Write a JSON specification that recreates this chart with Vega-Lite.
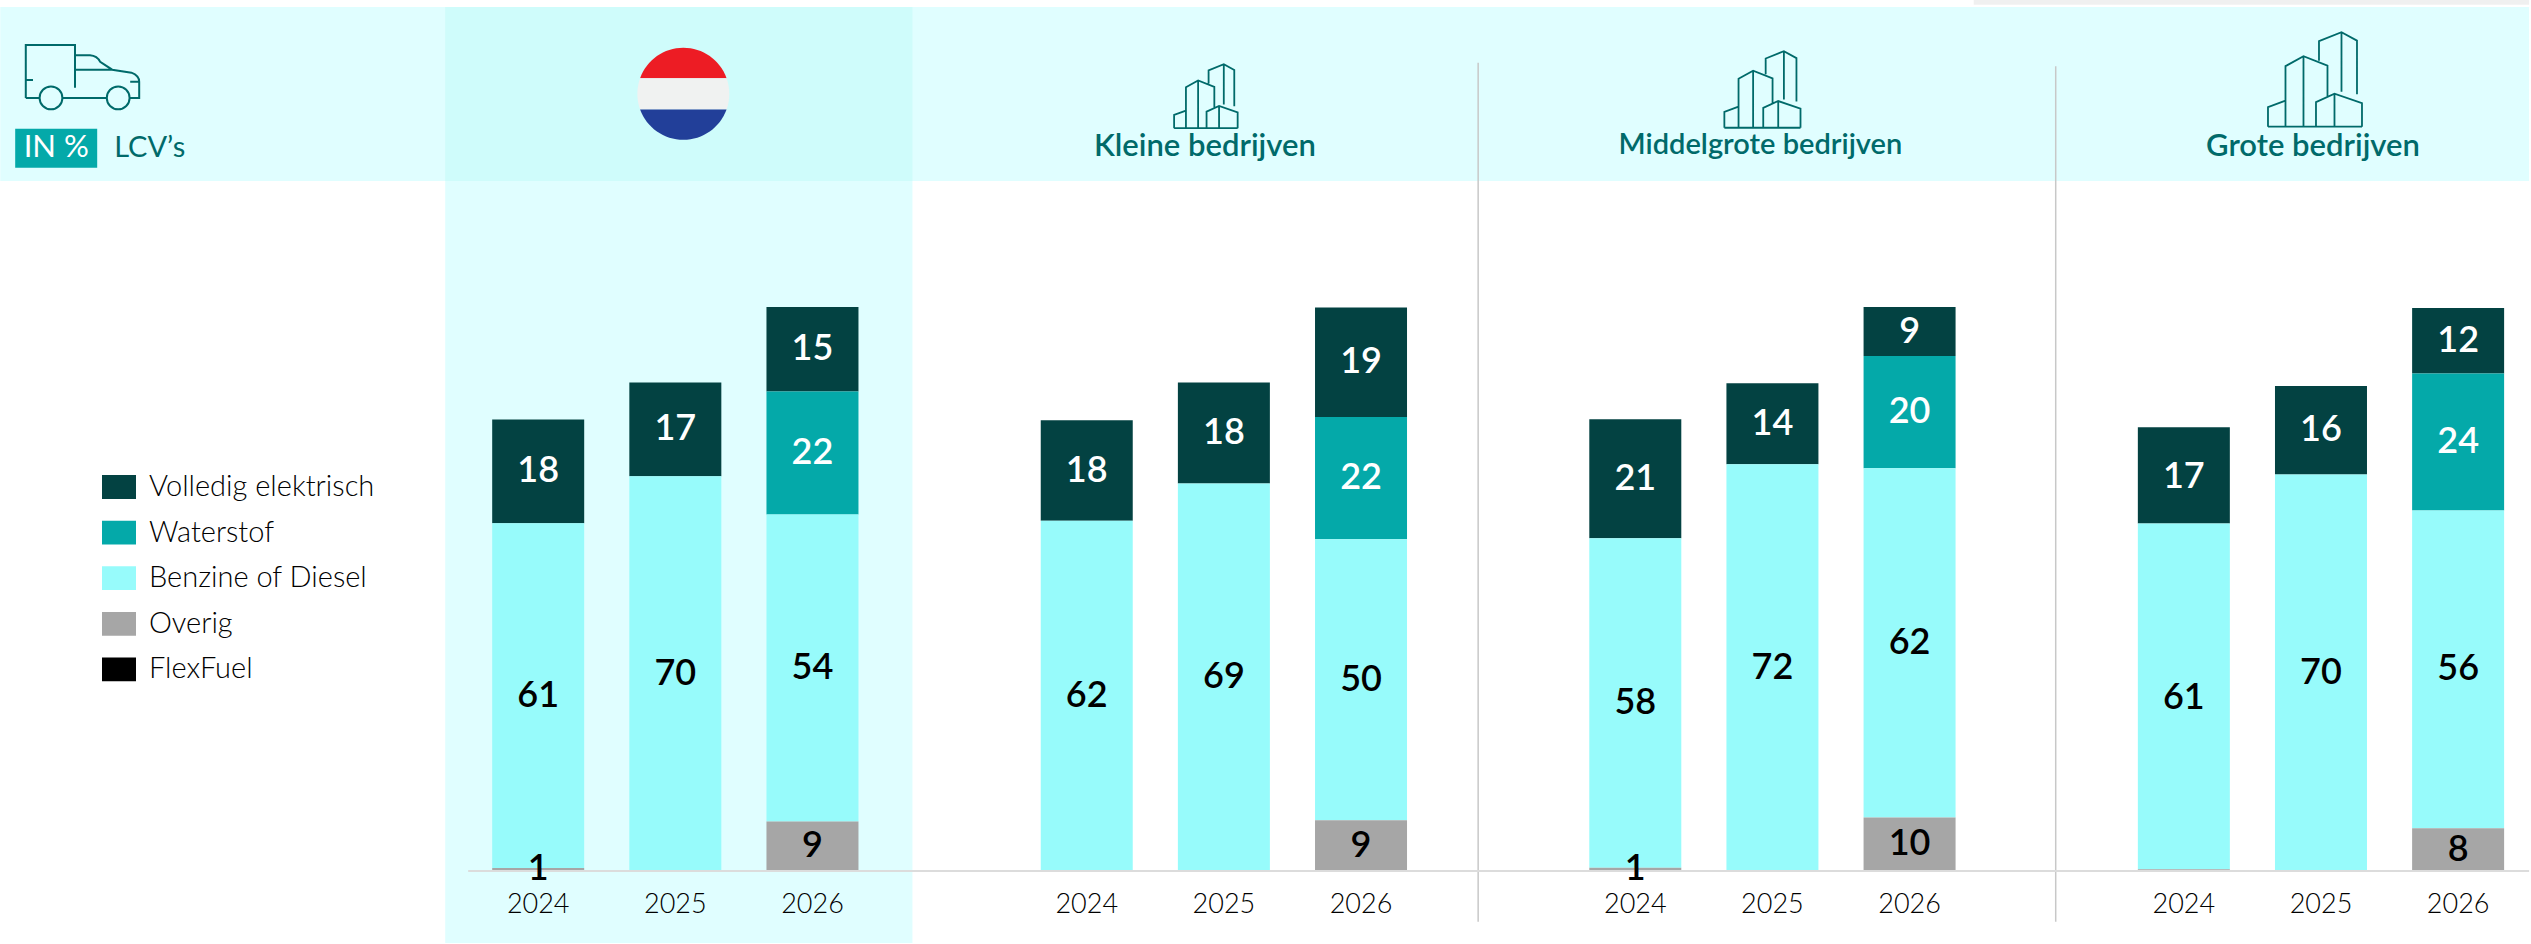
{
"$schema":"https://vega.github.io/schema/vega-lite/v6.json",
"width":2531,"height":944,"padding":0,"autosize":{"type":"fit","contains":"padding"},"background":"#ffffff",
"config":{"view":{"stroke":null},"axisY":{"disable":true},"font":"Lato"},
"data":{"values":[{"kop":1}]},
"datasets":{"rows":[
{"slot":"NL 2024","brandstof":"Volledig elektrisch","rang":4,"pct":18.4},
{"slot":"NL 2024","brandstof":"Benzine of Diesel","rang":2,"pct":61.1},
{"slot":"NL 2024","brandstof":"Overig","rang":1,"pct":0.55},
{"slot":"NL 2025","brandstof":"Volledig elektrisch","rang":4,"pct":16.6},
{"slot":"NL 2025","brandstof":"Benzine of Diesel","rang":2,"pct":70},
{"slot":"NL 2026","brandstof":"Volledig elektrisch","rang":4,"pct":15},
{"slot":"NL 2026","brandstof":"Waterstof","rang":3,"pct":21.8},
{"slot":"NL 2026","brandstof":"Benzine of Diesel","rang":2,"pct":54.4},
{"slot":"NL 2026","brandstof":"Overig","rang":1,"pct":8.8},
{"slot":"K 2024","brandstof":"Volledig elektrisch","rang":4,"pct":17.8},
{"slot":"K 2024","brandstof":"Benzine of Diesel","rang":2,"pct":62.1},
{"slot":"K 2025","brandstof":"Volledig elektrisch","rang":4,"pct":17.9},
{"slot":"K 2025","brandstof":"Benzine of Diesel","rang":2,"pct":68.7},
{"slot":"K 2026","brandstof":"Volledig elektrisch","rang":4,"pct":19.4},
{"slot":"K 2026","brandstof":"Waterstof","rang":3,"pct":21.7},
{"slot":"K 2026","brandstof":"Benzine of Diesel","rang":2,"pct":49.8},
{"slot":"K 2026","brandstof":"Overig","rang":1,"pct":9},
{"slot":"M 2024","brandstof":"Volledig elektrisch","rang":4,"pct":21.1},
{"slot":"M 2024","brandstof":"Benzine of Diesel","rang":2,"pct":58.4},
{"slot":"M 2024","brandstof":"Overig","rang":1,"pct":0.6},
{"slot":"M 2025","brandstof":"Volledig elektrisch","rang":4,"pct":14.4},
{"slot":"M 2025","brandstof":"Benzine of Diesel","rang":2,"pct":72.1},
{"slot":"M 2026","brandstof":"Volledig elektrisch","rang":4,"pct":8.7},
{"slot":"M 2026","brandstof":"Waterstof","rang":3,"pct":19.9},
{"slot":"M 2026","brandstof":"Benzine of Diesel","rang":2,"pct":61.9},
{"slot":"M 2026","brandstof":"Overig","rang":1,"pct":9.5},
{"slot":"G 2024","brandstof":"Volledig elektrisch","rang":4,"pct":17.1},
{"slot":"G 2024","brandstof":"Benzine of Diesel","rang":2,"pct":61.3},
{"slot":"G 2024","brandstof":"Overig","rang":1,"pct":0.3},
{"slot":"G 2025","brandstof":"Volledig elektrisch","rang":4,"pct":15.7},
{"slot":"G 2025","brandstof":"Benzine of Diesel","rang":2,"pct":70.3},
{"slot":"G 2026","brandstof":"Volledig elektrisch","rang":4,"pct":11.6},
{"slot":"G 2026","brandstof":"Waterstof","rang":3,"pct":24.3},
{"slot":"G 2026","brandstof":"Benzine of Diesel","rang":2,"pct":56.3},
{"slot":"G 2026","brandstof":"Overig","rang":1,"pct":7.6}
]},
"layer":[
{"mark":{"type":"rect","color":"#e0feff","xOffset":-492,"x2Offset":25},
 "encoding":{"x":{"datum":"NL 2024","bandPosition":0},"x2":{"datum":"G 2026","bandPosition":1},"y":{"datum":153.2,"type":"quantitative"},"y2":{"datum":122.34}}},
{"mark":{"type":"rect","color":"#e0feff","xOffset":-93,"x2Offset":100},
 "encoding":{"x":{"datum":"NL 2024"},"x2":{"datum":"NL 2026"},"y":{"datum":122.34,"type":"quantitative"},"y2":{"datum":-12.77}}},
{"mark":{"type":"rect","color":"#cffcfb","xOffset":-93,"x2Offset":100},
 "encoding":{"x":{"datum":"NL 2024"},"x2":{"datum":"NL 2026"},"y":{"datum":153.2,"type":"quantitative"},"y2":{"datum":122.34}}},
{"mark":{"type":"rect","color":"#f0f0f0","xOffset":-73,"x2Offset":71},
 "encoding":{"x":{"datum":"gap3"},"x2":{"datum":"G 2026"},"y":{"datum":154.43,"type":"quantitative"},"y2":{"datum":153.6}}},
{"mark":{"type":"rule","color":"#c8c8c8","strokeWidth":1.5,"xOffset":-20},
 "encoding":{"x":{"datum":"gap2"},"y":{"datum":143.3,"type":"quantitative"},"y2":{"datum":-9}}},
{"mark":{"type":"rule","color":"#c8c8c8","strokeWidth":1.5,"xOffset":9},
 "encoding":{"x":{"datum":"gap3"},"y":{"datum":142.7,"type":"quantitative"},"y2":{"datum":-9}}},
{"data":{"name":"rows"},
 "mark":{"type":"bar","width":92},
 "encoding":{
  "x":{"field":"slot","type":"nominal","sort":null,
   "scale":{"type":"band","domain":["gapA","gapB","gapC","NL 2024","NL 2025","NL 2026","gap1","K 2024","K 2025","K 2026","gap2","M 2024","M 2025","M 2026","gap3","G 2024","G 2025","G 2026"],"paddingInner":0.33,"paddingOuter":0.382,"align":0.762},
   "axis":{"title":null,"orient":"bottom","offset":-73,"ticks":false,"domain":false,"grid":false,"labelAngle":0,"labelAlign":"center","labelFontSize":27,"labelFont":"Lato","labelFontWeight":300,"labelColor":"#000000","labelPadding":33,"labelExpr":"indexof(datum.value,'gap')==0 ? '' : split(datum.value,' ')[1]"}},
  "y":{"field":"pct","type":"quantitative","stack":"zero","scale":{"domain":[-12.94,154.43],"nice":false,"zero":false}},
  "order":{"field":"rang"},
  "color":{"field":"brandstof","type":"nominal","title":null,
   "scale":{"domain":["Volledig elektrisch","Waterstof","Benzine of Diesel","Overig","FlexFuel"],"range":["#034242","#04a9a9","#97fbfb","#a6a6a6","#000000"]},
   "legend":{"orient":"none","legendX":101,"legendY":470,"symbolType":"M-1,-0.7L1,-0.7L1,0.7L-1,0.7Z","symbolSize":1156,"symbolStrokeWidth":0,"symbolOpacity":1,"labelFont":"Lato","labelFontWeight":300,"labelFontSize":29,"labelColor":"#000000","labelOffset":13,"rowPadding":13.6,"labelLimit":400}}
 }},
{"mark":{"type":"rule","color":"#dcdcdc","strokeWidth":2,"xOffset":-70,"x2Offset":71},
 "encoding":{"x":{"datum":"NL 2024"},"x2":{"datum":"G 2026"},"y":{"datum":0,"type":"quantitative"}}},
{"data":{"name":"rows"},
 "transform":[{"filter":"datum.pct>=0.5"}],
 "mark":{"type":"text","fontSize":36,"fontWeight":600,"font":"Lato"},
 "encoding":{
  "x":{"field":"slot","type":"nominal","sort":null},
  "y":{"field":"pct","type":"quantitative","stack":"zero","bandPosition":0.5},
  "order":{"field":"rang"},
  "text":{"field":"pct","type":"quantitative","format":".0f"},
  "color":{"condition":{"test":"datum.rang>=3","value":"#ffffff"},"value":"#000000"}
 }},
{"mark":{"type":"point","filled":true,"fill":"#ed1c24","stroke":null,"opacity":1,"size":8464,"xOffset":8,"shape":"M-0.94,-0.34A1,1 0 0 1 0.94,-0.34Z"},
 "encoding":{"x":{"datum":"NL 2025"},"y":{"datum":137.8,"type":"quantitative"}}},
{"mark":{"type":"point","filled":true,"fill":"#f0f2f1","stroke":null,"opacity":1,"size":8464,"xOffset":8,"shape":"M-0.94,-0.34L0.94,-0.34A1,1 0 0 1 0.94,0.34L-0.94,0.34A1,1 0 0 1 -0.94,-0.34Z"},
 "encoding":{"x":{"datum":"NL 2025"},"y":{"datum":137.8,"type":"quantitative"}}},
{"mark":{"type":"point","filled":true,"fill":"#223f99","stroke":null,"opacity":1,"size":8464,"xOffset":8,"shape":"M0.94,0.34A1,1 0 0 1 -0.94,0.34Z"},
 "encoding":{"x":{"datum":"NL 2025"},"y":{"datum":137.8,"type":"quantitative"}}},
{"mark":{"type":"point","filled":false,"stroke":"#006a6a","strokeWidth":1.8,"opacity":1,"size":4570,"xOffset":-18,"shape":"M-0.94,0.95L0.94,0.95M-0.94,0.95L-0.94,0.56L-0.59,0.43M-0.59,0.95L-0.59,-0.26L-0.23,-0.46L0.25,-0.27L0.25,0.35M-0.23,-0.46L-0.23,0.95M0.08,-0.37L0.08,-0.76L0.53,-0.94L0.84,-0.77L0.84,0.3M0.53,-0.94L0.53,0.25M0.02,0.95L0.02,0.46L0.39,0.29L0.94,0.48L0.94,0.95M0.39,0.29L0.39,0.95"},
 "encoding":{"x":{"datum":"K 2025"},"y":{"datum":137.4,"type":"quantitative"}}},
{"mark":{"type":"point","filled":false,"stroke":"#006a6a","strokeWidth":1.8,"opacity":1,"size":6561,"xOffset":-10,"shape":"M-0.94,0.95L0.94,0.95M-0.94,0.95L-0.94,0.56L-0.59,0.43M-0.59,0.95L-0.59,-0.26L-0.23,-0.46L0.25,-0.27L0.25,0.35M-0.23,-0.46L-0.23,0.95M0.08,-0.37L0.08,-0.76L0.53,-0.94L0.84,-0.77L0.84,0.3M0.53,-0.94L0.53,0.25M0.02,0.95L0.02,0.46L0.39,0.29L0.94,0.48L0.94,0.95M0.39,0.29L0.39,0.95"},
 "encoding":{"x":{"datum":"M 2025"},"y":{"datum":138.6,"type":"quantitative"}}},
{"mark":{"type":"point","filled":false,"stroke":"#006a6a","strokeWidth":1.8,"opacity":1,"size":10000,"xOffset":-6,"shape":"M-0.94,0.95L0.94,0.95M-0.94,0.95L-0.94,0.56L-0.59,0.43M-0.59,0.95L-0.59,-0.26L-0.23,-0.46L0.25,-0.27L0.25,0.35M-0.23,-0.46L-0.23,0.95M0.08,-0.37L0.08,-0.76L0.53,-0.94L0.84,-0.77L0.84,0.3M0.53,-0.94L0.53,0.25M0.02,0.95L0.02,0.46L0.39,0.29L0.94,0.48L0.94,0.95M0.39,0.29L0.39,0.95"},
 "encoding":{"x":{"datum":"G 2025"},"y":{"datum":140.4,"type":"quantitative"}}},
{"mark":{"type":"point","filled":false,"stroke":"#006a6a","strokeWidth":2,"opacity":1,"size":14400,"xOffset":-456,"shape":"M-0.94,0.35L-0.94,-0.53L-0.12,-0.53L-0.12,0.18M-0.12,-0.36L0.13,-0.36Q0.25,-0.35 0.3,-0.25L0.5,-0.12L0.82,-0.07Q0.95,-0.02 0.95,0.08L0.95,0.35L0.78,0.35M0.42,0.35L-0.33,0.35M-0.72,0.35L-0.94,0.35M-0.12,-0.12L0.5,-0.12M-0.94,0.05L-0.82,0.05M0.8,0.08L0.95,0.08M-0.33,0.35A0.19,0.19 0 1 1 -0.71,0.35A0.19,0.19 0 1 1 -0.33,0.35M0.79,0.35A0.19,0.19 0 1 1 0.41,0.35A0.19,0.19 0 1 1 0.79,0.35"},
 "encoding":{"x":{"datum":"NL 2024"},"y":{"datum":140.8,"type":"quantitative"}}},
{"mark":{"type":"rect","color":"#04a9a9","xOffset":-523,"x2Offset":-441},
 "encoding":{"x":{"datum":"NL 2024"},"x2":{"datum":"NL 2024"},"y":{"datum":131.6,"type":"quantitative"},"y2":{"datum":124.7}}},
{"mark":{"type":"text","text":"IN %","color":"#ffffff","fontSize":31,"font":"Lato","fontWeight":400,"xOffset":-482},
 "encoding":{"x":{"datum":"NL 2024"},"y":{"datum":128.2,"type":"quantitative"}}},
{"mark":{"type":"text","text":"LCV’s","color":"#006a6a","fontSize":29,"font":"Lato","fontWeight":400,"align":"left","xOffset":-424},
 "encoding":{"x":{"datum":"NL 2024"},"y":{"datum":128.2,"type":"quantitative"}}},
{"mark":{"type":"text","text":"Kleine bedrijven","color":"#006a6a","fontSize":31,"font":"Lato","fontWeight":600,"xOffset":-19},
 "encoding":{"x":{"datum":"K 2025"},"y":{"datum":128.4,"type":"quantitative"}}},
{"mark":{"type":"text","text":"Middelgrote bedrijven","color":"#006a6a","fontSize":29,"font":"Lato","fontWeight":600,"xOffset":-12},
 "encoding":{"x":{"datum":"M 2025"},"y":{"datum":128.8,"type":"quantitative"}}},
{"mark":{"type":"text","text":"Grote bedrijven","color":"#006a6a","fontSize":31,"font":"Lato","fontWeight":600,"xOffset":-8},
 "encoding":{"x":{"datum":"G 2025"},"y":{"datum":128.4,"type":"quantitative"}}}
]
}
